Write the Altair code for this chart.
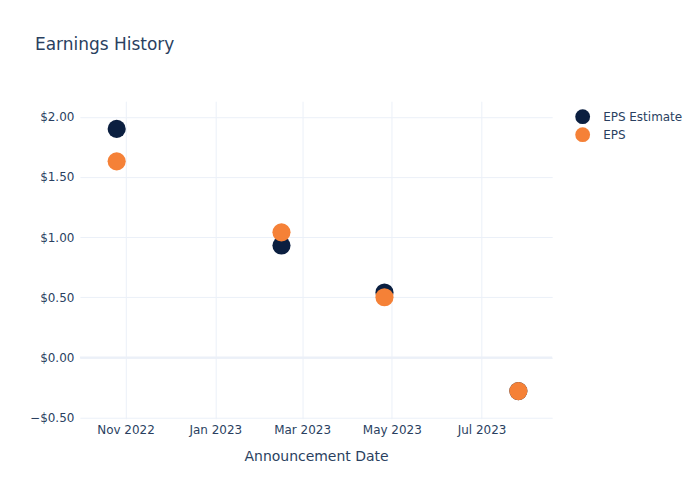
import altair as alt
import pandas as pd

dates = ["2022-10-26", "2023-02-15", "2023-04-26", "2023-07-26"]
eps_estimate = [1.90, 0.93, 0.54, -0.28]
eps_actual = [1.63, 1.04, 0.50, -0.28]
series_names = ["EPS Estimate", "EPS"]
series_colors = ["#0b1f40", "#f58137"]
x_ticks = ["2022-11-01", "2023-01-01", "2023-03-01", "2023-05-01", "2023-07-01"]
y_ticks = [-0.5, 0.0, 0.5, 1.0, 1.5, 2.0]

rows = []
for d, v in zip(dates, eps_estimate):
    rows.append({"date": d, "value": v, "series": "EPS Estimate"})
for d, v in zip(dates, eps_actual):
    rows.append({"date": d, "value": v, "series": "EPS"})
df = pd.DataFrame(rows)

TXT = "#2a3f5f"
GRID = "#ebf0f8"
FONT = "DejaVu Sans"

x_enc = alt.X(
    "date:T",
    title="Announcement Date",
    scale=alt.Scale(domain=["2022-10-01", "2023-08-18"]),
    axis=alt.Axis(
        values=[pd.Timestamp(t).isoformat() for t in x_ticks],
        format="%b %Y",
        labelColor=TXT, labelFontSize=12, labelFont=FONT, labelPadding=6,
        titleColor=TXT, titleFontSize=14, titleFont=FONT, titleFontWeight="normal",
        titlePadding=14,
        grid=True, gridColor=GRID, gridWidth=1,
        ticks=False, domain=False,
    ),
)
y_enc = alt.Y(
    "value:Q",
    title=None,
    scale=alt.Scale(domain=[-0.51, 2.13], nice=False, zero=False),
    axis=alt.Axis(
        values=y_ticks, format="$,.2f",
        labelColor=TXT, labelFontSize=12, labelFont=FONT, labelPadding=6,
        grid=True, gridColor=GRID, gridWidth=1,
        ticks=False, domain=False,
    ),
)

points = alt.Chart(df).mark_circle(size=330, opacity=1).encode(
    x=x_enc,
    y=y_enc,
    color=alt.Color(
        "series:N",
        scale=alt.Scale(domain=series_names, range=series_colors),
        sort=series_names,
        legend=alt.Legend(
            title=None, orient="none", legendX=495, legendY=7,
            symbolType="circle", symbolSize=220, symbolOpacity=1,
            labelColor=TXT, labelFontSize=12, labelFont=FONT, labelOffset=12,
            padding=0,
        ),
    ),
)

zero = alt.Chart(pd.DataFrame({"z": [0.0]})).mark_rule(color=GRID, strokeWidth=2).encode(
    y=alt.Y("z:Q", scale=alt.Scale(domain=[-0.51, 2.13], nice=False, zero=False))
)

chart = alt.layer(zero, points).properties(
    width=473,
    height=318,
    padding={"left": 72, "top": 93, "right": 140, "bottom": 70},
    autosize=alt.AutoSizeParams(type="none"),
    background="white",
    title=alt.TitleParams(
        "Earnings History", anchor="start", frame="group", dx=-45, offset=47,
        fontSize=17, font=FONT, fontWeight="normal", color=TXT,
    ),
).configure_view(stroke=None)

chart.save("out.html", embed_options={"renderer": "svg", "actions": False})
